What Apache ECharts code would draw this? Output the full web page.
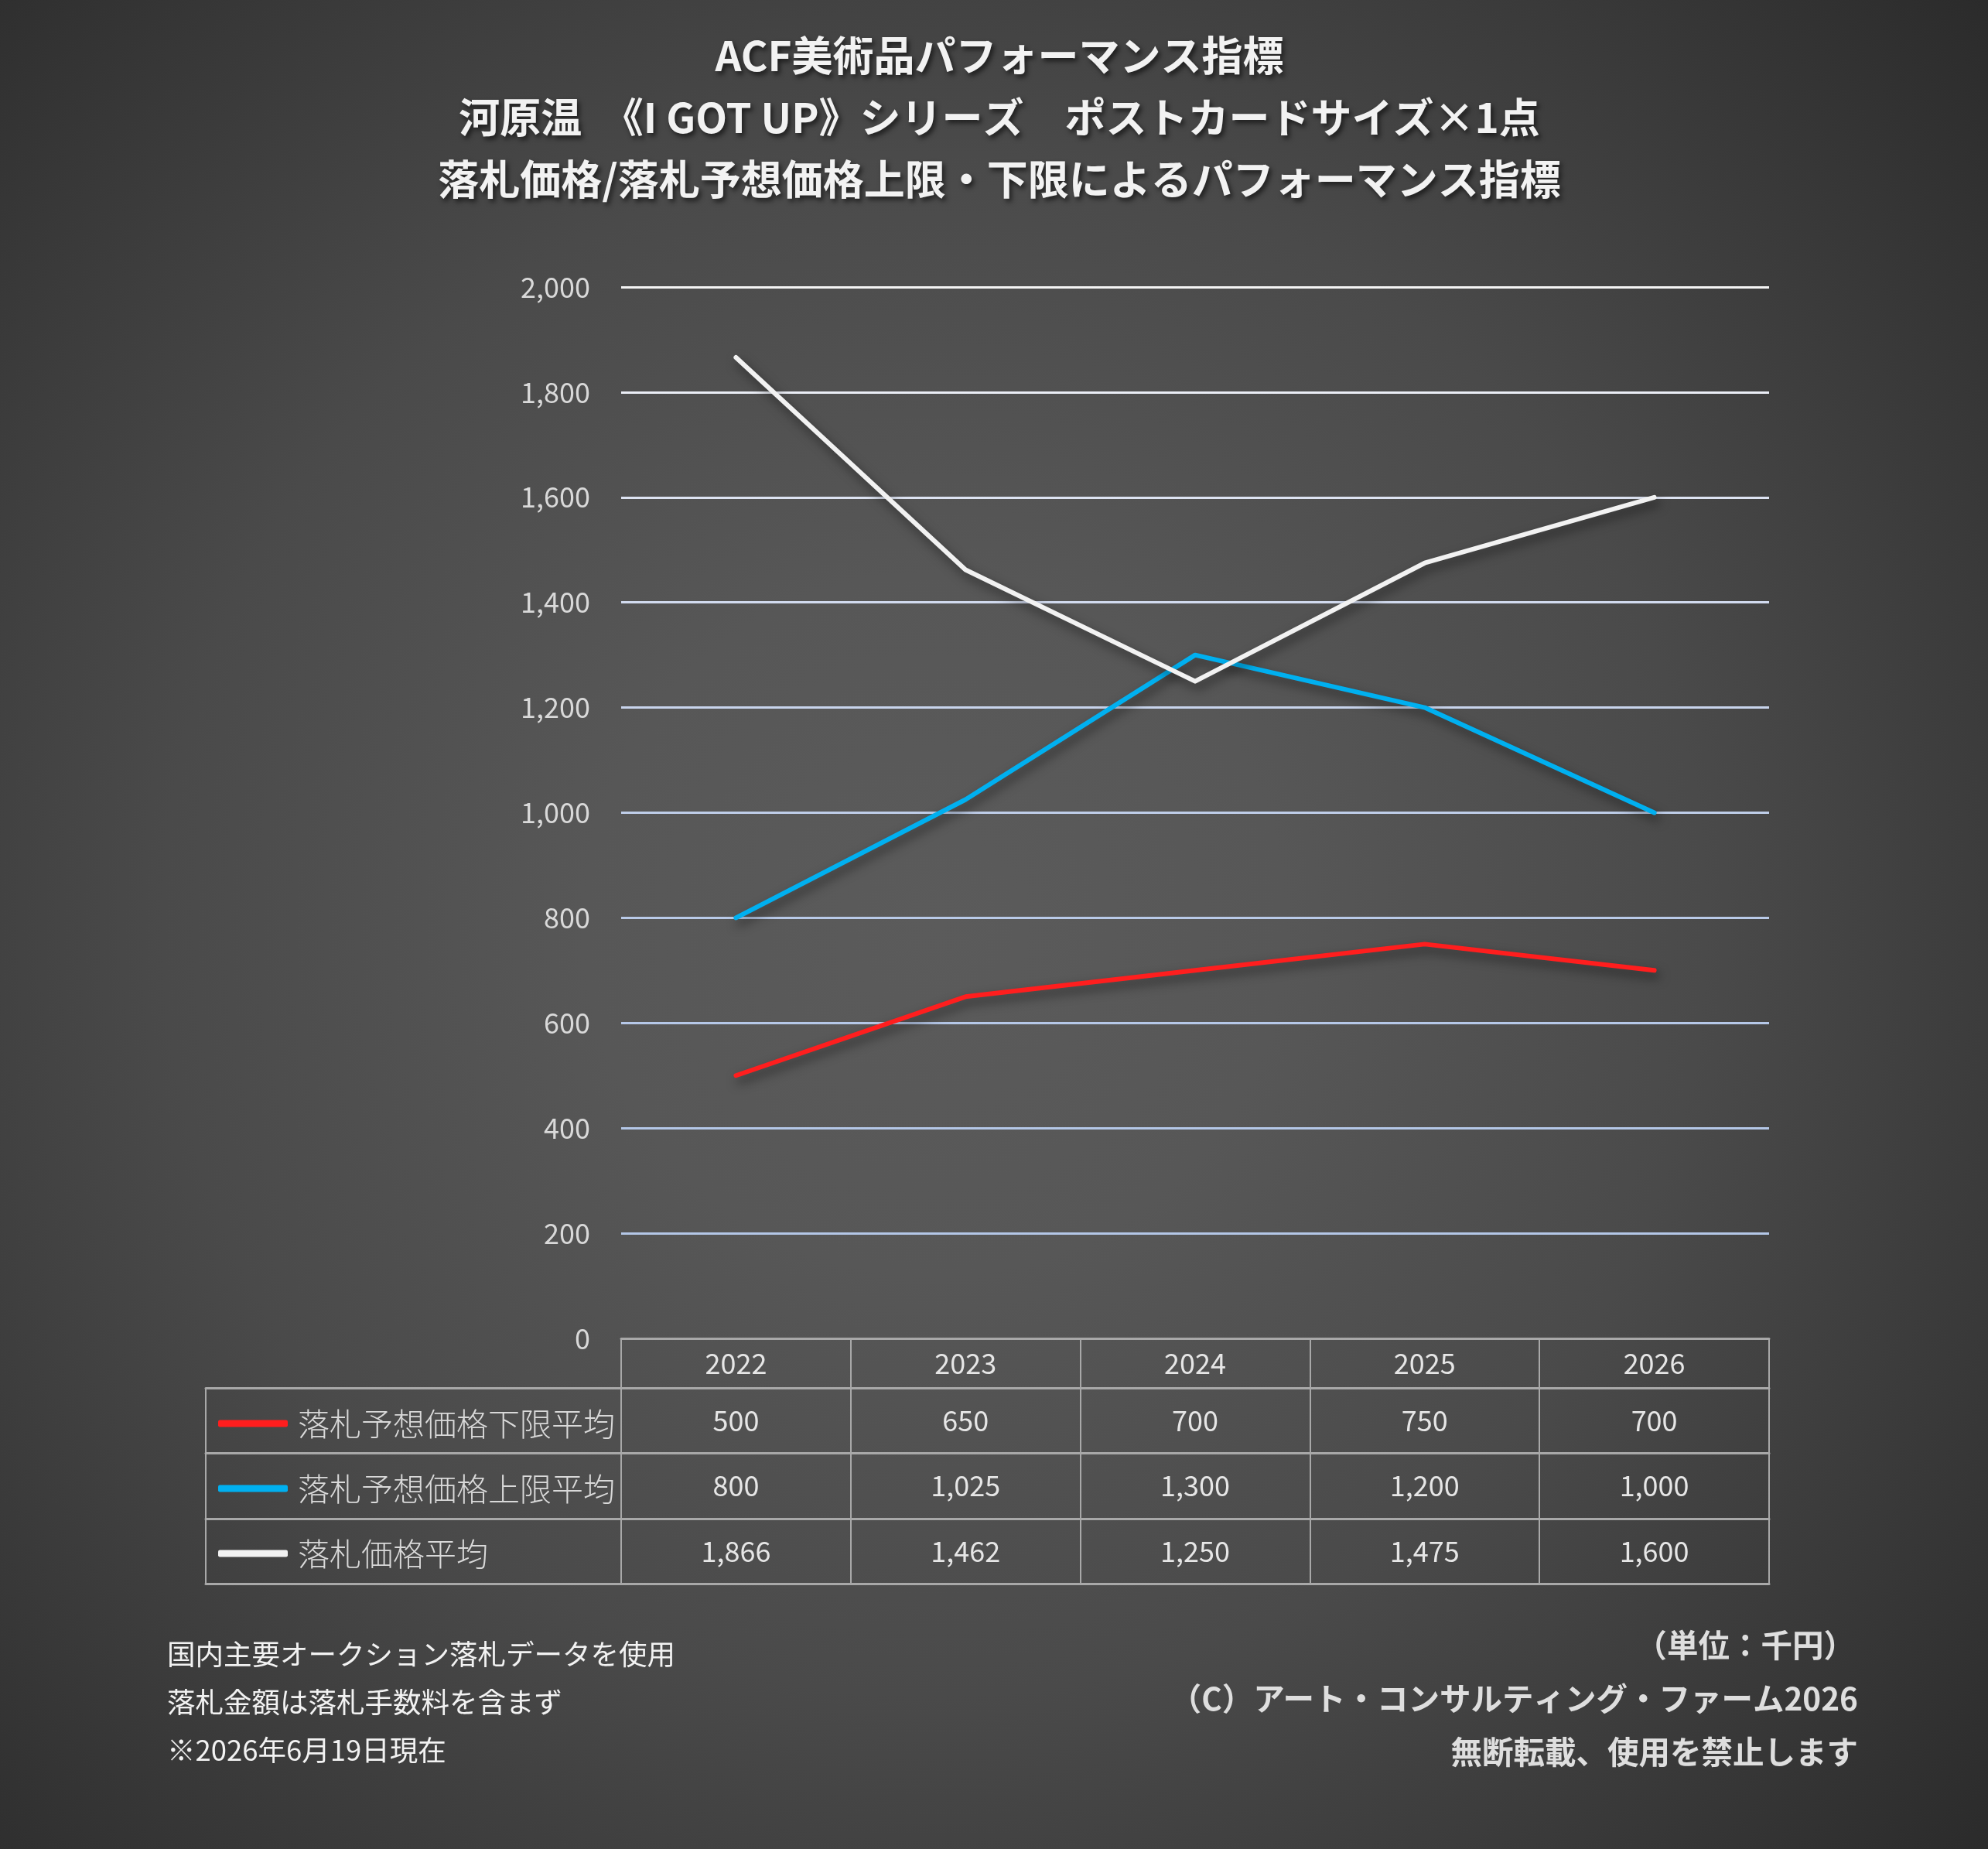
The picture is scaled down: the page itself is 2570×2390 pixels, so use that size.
<!DOCTYPE html>
<html>
<head>
<meta charset="utf-8">
<script src="https://cdn.jsdelivr.net/npm/echarts@6/dist/echarts.min.js"></script>
<style>
  html, body { margin: 0; padding: 0; }
  body {
    width: 2570px; height: 2390px;
    background: radial-gradient(circle farthest-corner at 47% 50%, #5b5b5b 0%, #575757 25%, #4a4a4a 55%, #2b2b2b 100%);
  }
  #chart { width: 2570px; height: 2390px; }
</style>
</head>
<body>
<div id="chart"></div>
<script>
// データ
const years = ['2022', '2023', '2024', '2025', '2026']
const lowerAvg = [500, 650, 700, 750, 700]        // 落札予想価格下限平均
const upperAvg = [800, 1025, 1300, 1200, 1000]    // 落札予想価格上限平均
const priceAvg = [1866, 1462, 1250, 1475, 1600]   // 落札価格平均
const seriesNames = ['落札予想価格下限平均', '落札予想価格上限平均', '落札価格平均']
const yTicks = { min: 0, max: 2000, interval: 200 }

const FONT = '"Noto Sans CJK JP", "Noto Sans", sans-serif'
const BORDER = '#a8a8a8'
const fmt = v => Number(v).toLocaleString('en-US')

// グリッド線：上ほど白く、下ほど青みがかる
const splitColors = ['#b4c7e7', '#b4c7e7', '#b4c7e7', '#b6c8e8', '#b9cae8', '#bfcee9',
  '#c8d4ec', '#d2dbef', '#dde3f2', '#ebeef6', '#f4f4f4']

// 表の行：offset=グリッド下端からの距離, tick=行の高さ
const rows = [
  { offset: 0, tick: 64, values: null },
  { offset: 64, tick: 84, values: lowerAvg },
  { offset: 148, tick: 85, values: upperAvg },
  { offset: 233, tick: 84, values: priceAvg },
  { offset: 317, tick: 0, values: undefined }
]

function tableAxis(gridIndex, row, data, showLabel) {
  return {
    type: 'category',
    gridIndex,
    position: 'bottom',
    offset: row.offset,
    data,
    boundaryGap: true,
    axisLine: { show: true, onZero: false, lineStyle: { color: BORDER, width: 3 } },
    axisTick: { show: row.tick > 0, length: row.tick, lineStyle: { color: BORDER, width: 2 } },
    axisLabel: {
      show: showLabel && row.values !== undefined,
      interval: 0,
      margin: row.tick / 2,
      verticalAlign: 'middle',
      fontFamily: FONT,
      fontSize: 36,
      color: '#e6e6e6',
      formatter: (v, i) => row.values ? fmt(row.values[i]) : v
    },
    splitLine: { show: false }
  }
}

const xAxes = []
rows.forEach(r => xAxes.push(tableAxis(0, r, years, true)))
// 凡例列の枠線
rows.slice(1).forEach(r => xAxes.push(tableAxis(1, r, [''], false)))

const shadow = { shadowColor: 'rgba(0,0,0,0.55)', shadowBlur: 14, shadowOffsetX: 4, shadowOffsetY: 7 }
const lineColors = ['#ff1e1e', '#00b0f0', '#f2f2f2']

const chart = echarts.init(document.getElementById('chart'), null, { renderer: 'canvas' })

chart.setOption({
  backgroundColor: 'transparent',
  animation: false,
  textStyle: { fontFamily: FONT },
  title: {
    text: 'ACF美術品パフォーマンス指標\n河原温　《I GOT UP》シリーズ　ポストカードサイズ×1点\n落札価格/落札予想価格上限・下限によるパフォーマンス指標',
    left: 1292,
    top: 32,
    textAlign: 'center',
    padding: 0,
    textStyle: {
      fontFamily: FONT,
      fontSize: 53,
      fontWeight: 'bold',
      color: '#f2f2f2',
      lineHeight: 80,
      textShadowColor: 'rgba(0,0,0,0.6)',
      textShadowBlur: 6,
      textShadowOffsetX: 3,
      textShadowOffsetY: 4
    }
  },
  legend: {
    orient: 'vertical',
    left: 277,
    top: 1810,
    data: seriesNames,
    icon: 'roundRect',
    itemWidth: 90,
    itemHeight: 9,
    itemGap: 34,
    textStyle: {
      fontFamily: FONT,
      fontSize: 41,
      fontWeight: 300,
      color: '#d9d9d9',
      lineHeight: 50,
      padding: [0, 0, 0, 8]
    }
  },
  grid: [
    { left: 803, right: 283, top: 371, bottom: 660 },
    { left: 266, right: 1767, top: 371, bottom: 660 }
  ],
  xAxis: xAxes,
  yAxis: [
    {
      type: 'value',
      gridIndex: 0,
      min: yTicks.min,
      max: yTicks.max,
      interval: yTicks.interval,
      axisLine: { show: false },
      axisTick: { show: false },
      axisLabel: { fontFamily: FONT, fontSize: 36, color: '#d9d9d9', margin: 40, formatter: fmt },
      splitLine: { show: true, lineStyle: { color: splitColors, width: 3 } }
    },
    { type: 'value', gridIndex: 1, show: false, min: 0, max: 1 }
  ],
  series: [lowerAvg, upperAvg, priceAvg].map((d, i) => ({
    name: seriesNames[i],
    type: 'line',
    xAxisIndex: 0,
    yAxisIndex: 0,
    data: d,
    showSymbol: false,
    symbol: 'none',
    color: lineColors[i],
    lineStyle: Object.assign({ color: lineColors[i], width: 6, cap: 'round', join: 'round' }, shadow),
    z: 3 + i
  })),
  graphic: [
    // 左下の注記
    ...['国内主要オークション落札データを使用', '落札金額は落札手数料を含まず', '※2026年6月19日現在'].map((t, i) => ({
      type: 'text',
      left: 216,
      top: 2141 + i * 62 - 21,
      style: { text: t, fontFamily: FONT, fontSize: 36.5, fill: '#f2f2f2' }
    })),
    // 右下の注記
    ...[['（単位：千円）', 2127, 2398], ['（C）アート・コンサルティング・ファーム2026', 2196, 2402], ['無断転載、使用を禁止します', 2265, 2402]].map(([t, y, x]) => ({
      type: 'text',
      x,
      y,
      style: {
        text: t, fontFamily: FONT, fontSize: 40.5, fontWeight: 'bold', fill: '#dedede',
        align: 'right', verticalAlign: 'middle',
        shadowColor: 'rgba(0,0,0,0.6)', shadowBlur: 5, shadowOffsetX: 2, shadowOffsetY: 3
      }
    }))
  ]
})
</script>
</body>
</html>
